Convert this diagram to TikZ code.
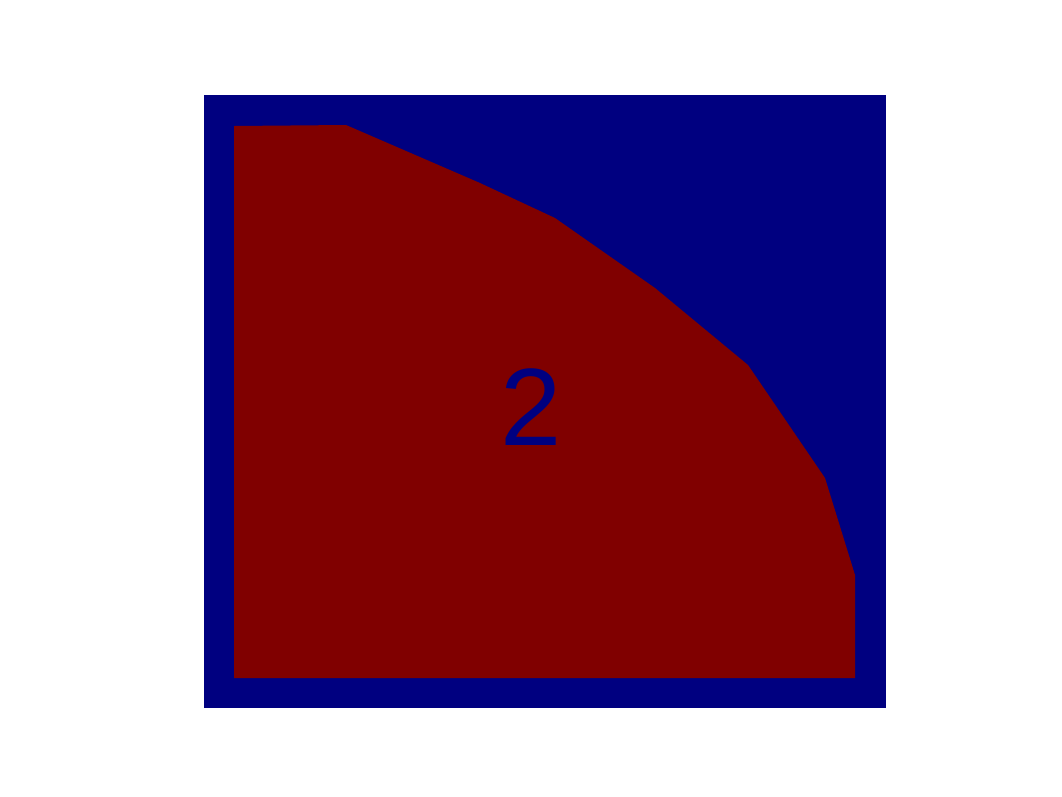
\documentclass[tikz,border=0pt]{standalone}
\usepackage{fontspec}
\setmainfont{Liberation Sans}
\definecolor{navyb}{RGB}{0,0,128}
\definecolor{maroonr}{RGB}{128,0,0}
\begin{document}
\begin{tikzpicture}[x=1pt,y=-1pt,
  region/.style={fill=maroonr,draw=none},
  frame/.style={fill=navyb,draw=none},
  lbl/.style={text=navyb,font=\fontsize{110}{110}\selectfont,inner sep=0pt}]
\useasboundingbox (0,0) rectangle (1062,796);
\fill[white] (0,0) rectangle (1062,796);
\path[frame] (204,95) rectangle (886,708);
\path[region] (234,126) -- (346,125) -- (480,183) -- (555,218) -- (655,288) -- (748,365) -- (825,478) -- (855,575) -- (855,678) -- (234,678) -- cycle;
\node[lbl] (two) at (531.5,407.5) {2};
\end{tikzpicture}
\end{document}
